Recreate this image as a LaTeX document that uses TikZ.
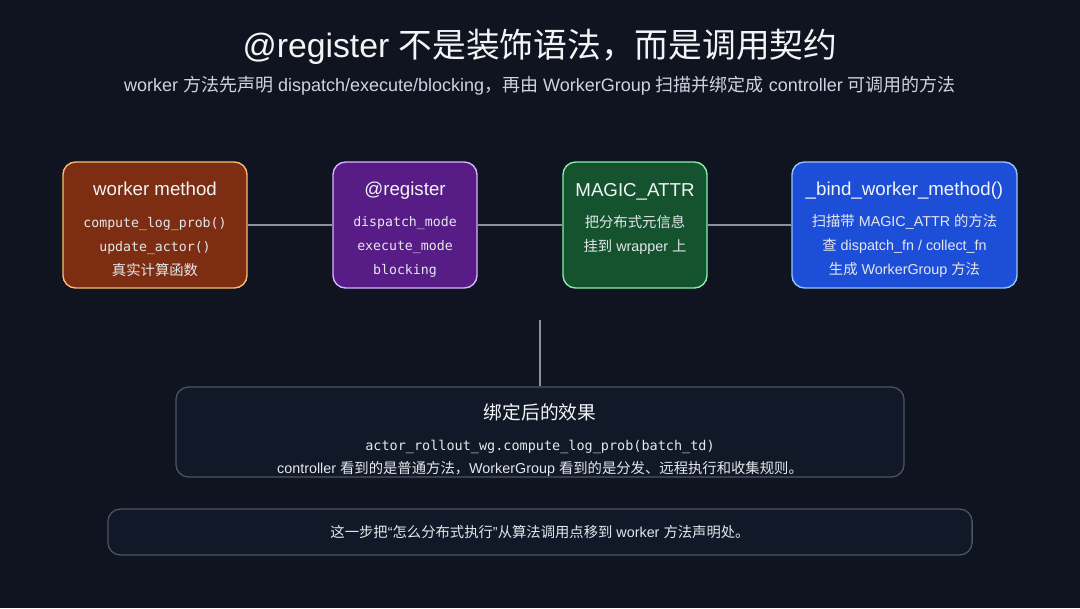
\documentclass[tikz,border=0pt]{standalone}
\usepackage{fontspec}
\setmainfont{Liberation Sans}
\setmonofont{DejaVu Sans Mono}
\newfontfamily\cjk{Noto Sans CJK SC}
\usetikzlibrary{positioning}
\definecolor{bgnavy}{HTML}{0F1420}
\definecolor{softwhite}{HTML}{F3F4F6}
\definecolor{subgray}{HTML}{CBD5E1}
\definecolor{bodytext}{HTML}{E5E7EB}
\definecolor{linkgray}{HTML}{8B929C}
\definecolor{rustfill}{HTML}{7C2D12}
\definecolor{rustedge}{HTML}{FDBA74}
\definecolor{plumfill}{HTML}{581C87}
\definecolor{plumedge}{HTML}{D8B4FE}
\definecolor{pinefill}{HTML}{14532D}
\definecolor{pineedge}{HTML}{86EFAC}
\definecolor{cobaltfill}{HTML}{1D4ED8}
\definecolor{cobaltedge}{HTML}{93C5FD}
\definecolor{panelfill}{HTML}{111827}
\definecolor{paneledge}{HTML}{4B5563}
\newcommand{\zh}[1]{{\cjk #1}}
\newcommand{\boxtitle}[1]{\rule{0pt}{16pt}{\fontsize{13.3}{17}\selectfont #1}}

\begin{document}
\begin{tikzpicture}[x=0.025cm, y=-0.025cm,
  stage/.style={rounded corners=9pt, line width=1pt, text=bodytext, align=center,
    minimum height=3.15cm, inner sep=2pt, font=\fontsize{10.2}{17}\selectfont},
  panel/.style={rounded corners=9pt, line width=0.9pt, draw=paneledge, fill=panelfill,
    text=bodytext, align=center, inner sep=2pt},
  link/.style={draw=linkgray, line width=1.4pt}]
  \fill[bgnavy] (0,0) rectangle (1080,608);
  \useasboundingbox (0,0) rectangle (1080,608);

  \node[text=softwhite, font=\fontsize{24}{28}\selectfont] (title) at (540,47)
    {@register \zh{不是装饰语法，而是调用契约}};
  \node[text=subgray, font=\fontsize{12.8}{15}\selectfont] (subtitle) at (540,86)
    {worker \zh{方法先声明} dispatch/execute/blocking\zh{，再由} WorkerGroup \zh{扫描并绑定成} controller \zh{可调用的方法}};

  \node[stage, draw=rustedge, fill=rustfill, minimum width=4.6cm] (worker) at (155,225)
    {\boxtitle{\color{softwhite}worker method}\\[5.5pt]
     {\ttfamily\fontsize{9.4}{17}\selectfont compute\_log\_prob()}\\
     {\ttfamily\fontsize{9.4}{17}\selectfont update\_actor()}\\
     \zh{真实计算函数}};
  \node[stage, draw=plumedge, fill=plumfill, minimum width=3.6cm] (register) at (405,225)
    {\boxtitle{\color{softwhite}@register}\\[5.5pt]
     {\ttfamily\fontsize{9.4}{17}\selectfont dispatch\_mode}\\
     {\ttfamily\fontsize{9.4}{17}\selectfont execute\_mode}\\
     {\ttfamily\fontsize{9.4}{17}\selectfont blocking}};
  \node[stage, draw=pineedge, fill=pinefill, minimum width=3.6cm] (magic) at (635,225)
    {\boxtitle{\color{softwhite}MAGIC\_ATTR}\\[5.5pt]
     \zh{把分布式元信息}\\
     \zh{挂到} wrapper \zh{上}\\
     \phantom{\zh{上}}};
  \node[stage, draw=cobaltedge, fill=cobaltfill, minimum width=5.625cm] (bind) at (904.5,225)
    {\boxtitle{\color{softwhite}\_bind\_worker\_method()}\\[5.5pt]
     \zh{扫描带} MAGIC\_ATTR \zh{的方法}\\
     \zh{查} dispatch\_fn / collect\_fn\\
     \zh{生成} WorkerGroup \zh{方法}};

  \draw[link] (worker.east) -- (register.west);
  \draw[link] (register.east) -- (magic.west);
  \draw[link] (magic.east) -- (bind.west);

  \node[panel, inner ysep=0pt, minimum width=18.2cm, minimum height=2.25cm] (effect) at (540,432)
    {\rule{0pt}{23pt}{\fontsize{13.3}{17}\selectfont\color{softwhite}\zh{绑定后的效果}}\\[10pt]
     {\ttfamily\fontsize{9.6}{15}\selectfont actor\_rollout\_wg.compute\_log\_prob(batch\_td)}\\[4pt]
     {\fontsize{10.2}{15}\selectfont controller \zh{看到的是普通方法，}WorkerGroup \zh{看到的是分发、远程执行和收集规则。}}};
  \coordinate (hub) at (540,320);
  \draw[link, line width=1.1pt] (hub) -- (effect.north);

  \node[panel, minimum width=21.6cm, minimum height=1.15cm, font=\fontsize{10.2}{14}\selectfont] (note) at (540,532)
    {\zh{这一步把}“\zh{怎么分布式执行}”\zh{从算法调用点移到} worker \zh{方法声明处。}};
\end{tikzpicture}
\end{document}
